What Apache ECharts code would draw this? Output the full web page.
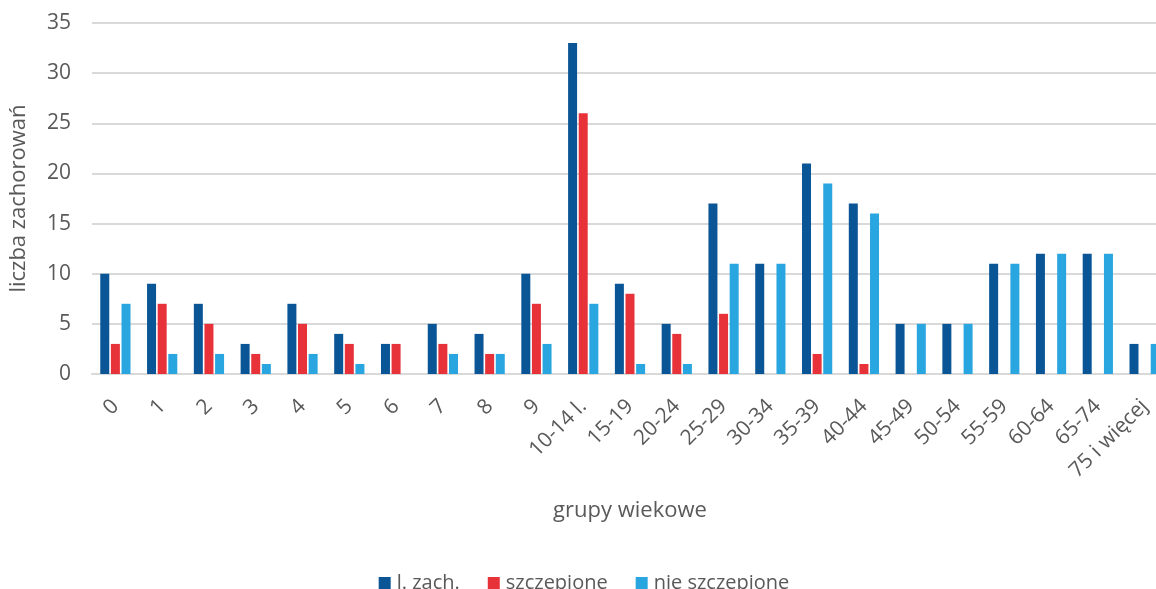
<!DOCTYPE html>
<html>
<head>
<meta charset="utf-8">
<script src="https://cdn.jsdelivr.net/npm/echarts@6/dist/echarts.min.js"></script>
<style>
  html, body { margin: 0; padding: 0; background: #fff; overflow: hidden; }
  /* the plot area runs slightly past the right edge of the window */
  #chart { width: 1168px; height: 589px; }
</style>
</head>
<body>
<div id="chart"></div>
<script>
// Age groups on the horizontal axis
const ageGroups = ['0', '1', '2', '3', '4', '5', '6', '7', '8', '9', '10-14 l.',
  '15-19', '20-24', '25-29', '30-34', '35-39', '40-44', '45-49', '50-54',
  '55-59', '60-64', '65-74', '75 i więcej'];

// Number of cases per age group
const totalCases = [10, 9, 7, 3, 7, 4, 3, 5, 4, 10, 33, 9, 5, 17, 11, 21, 17, 5, 5, 11, 12, 12, 3];
const vaccinated = [3, 7, 5, 2, 5, 3, 3, 3, 2, 7, 26, 8, 4, 6, 0, 2, 1, 0, 0, 0, 0, 0, 0];
const unvaccinated = [7, 2, 2, 1, 2, 1, 0, 2, 2, 3, 7, 1, 1, 11, 11, 19, 16, 5, 5, 11, 12, 12, 3];

const seriesNames = ['l. zach.', 'szczepione', 'nie szczepione'];
const seriesColors = ['#0a5596', '#e8323a', '#29a6df'];

const FONT = '"Open Sans", sans-serif';
const TEXT = '#595959';

const chart = echarts.init(document.getElementById('chart'), null, { renderer: 'canvas' });

const barSeries = [totalCases, vaccinated, unvaccinated].map((values, i) => ({
  name: seriesNames[i],
  type: 'bar',
  data: values,
  barWidth: 9,
  barGap: '18%',
  itemStyle: { color: seriesColors[i] },
  emphasis: { disabled: true }
}));

chart.setOption({
  animation: false,
  textStyle: { fontFamily: FONT, color: TEXT },
  grid: { left: 90, right: 0, top: 23, height: 351, containLabel: false },
  legend: {
    data: seriesNames,
    top: 568,
    left: 'center',
    itemWidth: 12,
    itemHeight: 12,
    itemGap: 28,
    icon: 'rect',
    textStyle: { fontFamily: FONT, fontSize: 20, color: TEXT, padding: [0, 0, 0, 1] }
  },
  xAxis: {
    type: 'category',
    data: ageGroups,
    name: 'grupy wiekowe',
    nameLocation: 'middle',
    nameGap: 126,
    nameTextStyle: { fontFamily: FONT, fontSize: 22, color: TEXT },
    axisLine: { lineStyle: { color: '#d9d9d9', width: 2 } },
    axisTick: { show: false },
    axisLabel: {
      rotate: 45,
      interval: 0,
      margin: 29,
      fontFamily: FONT,
      fontSize: 21,
      color: TEXT
    }
  },
  yAxis: {
    type: 'value',
    min: 0,
    max: 35,
    interval: 5,
    name: 'liczba zachorowań',
    nameLocation: 'middle',
    nameGap: 62,
    nameTextStyle: { fontFamily: FONT, fontSize: 22, color: TEXT },
    axisLine: { show: false },
    axisTick: { show: false },
    axisLabel: { margin: 21, fontFamily: FONT, fontSize: 21, color: TEXT },
    splitLine: { lineStyle: { color: '#d9d9d9', width: 2 } }
  },
  series: barSeries
});
</script>
</body>
</html>
